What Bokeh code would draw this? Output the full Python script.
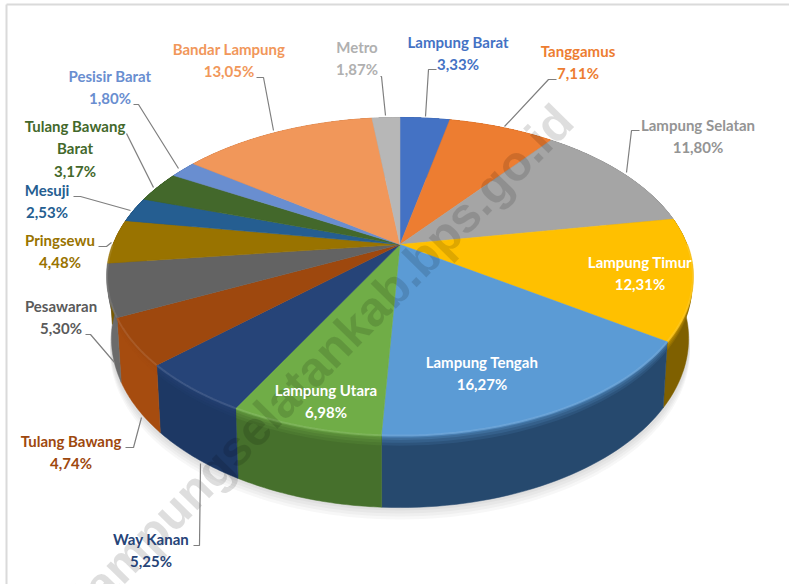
import numpy as np
from bokeh.plotting import figure
from bokeh.models import Range1d, ColumnDataSource
from bokeh.core.properties import value
from bokeh.embed import file_html
from bokeh.resources import INLINE

# ---- data (clockwise from 12 o'clock) ----
regions = ["Lampung Barat", "Tanggamus", "Lampung Selatan", "Lampung Timur", "Lampung Tengah",
           "Lampung Utara", "Way Kanan", "Tulang Bawang", "Pesawaran", "Pringsewu", "Mesuji",
           "Tulang Bawang\nBarat", "Pesisir Barat", "Bandar Lampung", "Metro"]
shares = [3.33, 7.11, 11.80, 12.31, 16.27, 6.98, 5.25, 4.74, 5.30, 4.48, 2.53, 3.17, 1.80, 13.05, 1.87]
face_colors = ["#4472C4", "#ED7D31", "#A5A5A5", "#FFC000", "#5B9BD5", "#70AD47", "#264478", "#9E480E",
               "#636363", "#997300", "#255E91", "#43682B", "#698ED0", "#F1975A", "#B7B7B7"]
wall_colors = ["#2F5597", "#B85F20", "#7C7C7C", "#7F6000", "#26496E", "#46702C", "#1D3864", "#A64C0F",
               "#6B6B6B", "#7A5C00", "#1C4870", "#32501F", "#4F6FA8", "#B87040", "#8A8A8A"]
label_colors = ["#4472C4", "#ED7D31", "#949494", "#FFFFFF", "#FFFFFF", "#FFFFFF", "#264478", "#9E480E",
                "#5A5A5A", "#997300", "#255E91", "#43682B", "#698ED0", "#F1975A", "#B0B0B0"]

# ---- layout (pixels of the page) ----
W, H = 789, 584
CX, CY = 399.5, 244           # the point where the slices meet
A, M, K = 287.0, 152.6, 0.2013   # perspective of the top face
DEPTH, DEPTH_FRONT, SHRINK = 60.0, 0.0628, 0.985
label_x = [457.5, 577.5, 697.5, 639.5, 481.5, 325.5, 150.5, 70.5, 60.5, 59.5, 46.5, 74.5, 109.5, 228.5, 356.5]
label_y = [41, 50, 124, 261, 361, 389, 538, 440, 305, 239, 189, 125, 75, 48, 46]
leaders = [
    ([436, 428, 425], [69, 69, 116]), ([556, 548, 504], [79, 79, 126]), ([639, 631, 626], [130, 130, 172]),
    ([193, 199, 200], [545, 545, 463]), ([125, 133, 141], [447, 447, 417]), ([85, 90, 114], [334, 334, 362]),
    ([98, 106, 111], [246, 246, 242]), ([73, 80, 130], [196, 196, 210]), ([126, 153], [133, 187]),
    ([133, 138, 178], [104, 104, 168]), ([256, 263, 273], [77, 77, 130]), ([380, 381, 385], [76, 76, 115]),
]
LINE_STEP = 22.5


def top(theta, r=1.0):
    d = 1 + K * r * np.cos(theta)
    return CX + A * r * np.sin(theta) / d, CY - M * r * np.cos(theta) / d


def bottom(theta):
    x, y = top(theta)
    Y = CY - y
    extra = np.where(Y < 0, -Y * DEPTH_FRONT, 0.0)
    return CX + (x - CX) * SHRINK, y + DEPTH + extra


def mix(c1, c2, t):
    a = [int(c1[i:i + 2], 16) for i in (1, 3, 5)]
    b = [int(c2[i:i + 2], 16) for i in (1, 3, 5)]
    return "#%02X%02X%02X" % tuple(int(round(p + (q - p) * t)) for p, q in zip(a, b))


p = figure(width=W, height=H, x_range=Range1d(0, W), y_range=Range1d(H, 0),
           toolbar_location=None, output_backend="svg", min_border=0,
           background_fill_color="white", border_fill_color="white")
p.axis.visible = False
p.grid.visible = False
p.outline_line_color = None

# outer frame of the original slide
p.line([6, 6], [4, H], line_color="#DADADA", line_width=2)
p.line([6, W], [4, 4], line_color="#DADADA", line_width=2)

frac = np.array(shares) / sum(shares)
edges = np.concatenate([[0], np.cumsum(frac)]) * 2 * np.pi

# soft shadow
ring = np.linspace(0, 2 * np.pi, 240)
sx, sy = bottom(ring)
for off in (12, 9, 6, 3):
    p.patch(CX + (sx - CX) * 1.005, sy + off, fill_color="#000000", fill_alpha=0.03, line_color=None)

# side walls
for i in range(len(shares)):
    th = np.linspace(edges[i], edges[i + 1], 40)
    tx, ty = top(th)
    bx, by = bottom(th)
    p.patch(np.r_[tx, bx[::-1]], np.r_[ty, by[::-1]], fill_color=wall_colors[i], line_color=wall_colors[i], line_width=0.5)
    # bevel: the wall lightens towards the rim
    for h, t in ((0.14, 0.14), (0.10, 0.28), (0.06, 0.45), (0.03, 0.65)):
        mx, my = tx + (bx - tx) * h, ty + (by - ty) * h
        col = mix(wall_colors[i], face_colors[i], t)
        p.patch(np.r_[tx, mx[::-1]], np.r_[ty, my[::-1]], fill_color=col, line_color=None)

# top face
for i in range(len(shares)):
    th = np.linspace(edges[i], edges[i + 1], 50)
    tx, ty = top(th)
    p.patch(np.r_[CX, tx], np.r_[CY, ty], fill_color=face_colors[i], line_color=face_colors[i], line_width=0.5)
    front = (th > np.pi / 2) & (th < 3 * np.pi / 2)
    if front.sum() > 1:
        p.line(tx[front], ty[front], line_color=mix(face_colors[i], "#FFFFFF", 0.15), line_width=2, line_alpha=0.7)

# web-address watermark
p.text([564], [112], text=["//lampungselatankab.bps.go.id"], text_align="right", text_baseline="alphabetic",
       angle=np.deg2rad(45.5), text_font=value("Liberation Sans"), text_font_style="bold",
       text_font_size="49px", text_color="#000000", text_alpha=0.13)

# leader lines
for lx, ly in leaders:
    p.line(lx, ly, line_color="#7F7F7F", line_width=1.2)

# labels
txt = [f"{n}\n{v:.2f}".replace(".", ",") for n, v in zip(regions, shares)]
rows = [t.split("\n") for t in txt]
xs, ys, ss, cs = [], [], [], []
for i, r in enumerate(rows):
    for j, s in enumerate(r):
        xs.append(label_x[i])
        ys.append(label_y[i] + j * LINE_STEP)
        ss.append(s + ("%" if j == len(r) - 1 else ""))
        cs.append(label_colors[i])
src = ColumnDataSource(dict(x=xs, y=ys, s=ss, c=cs))
p.text("x", "y", text="s", text_color="c", source=src, text_align="center", text_baseline="middle",
       text_font=value("Lato"), text_font_style="bold", text_font_size="15px")

open("out.html", "w").write(file_html(p, INLINE))
